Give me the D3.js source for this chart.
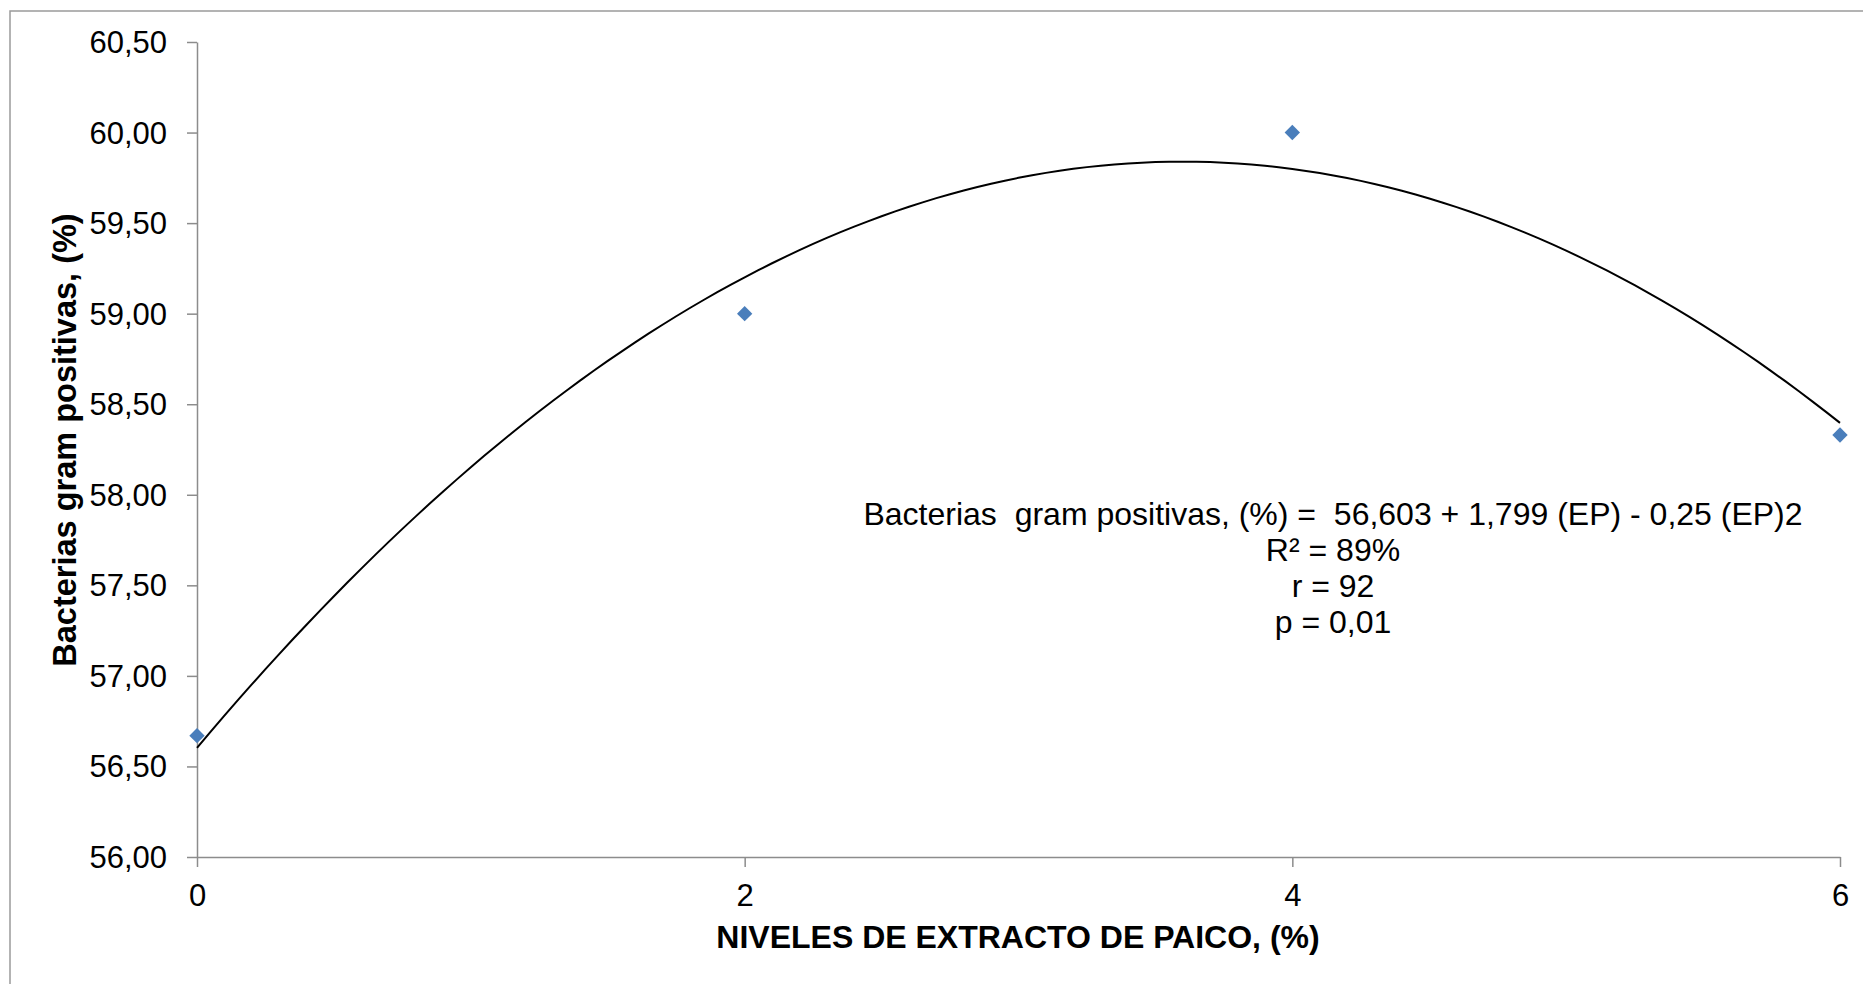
<!DOCTYPE html>
<html lang="es">

<head>
  <meta charset="UTF-8">
  <title>Bacterias gram positivas</title>
  <script src="https://d3js.org/d3.v7.min.js"></script>
  <style>
    body {
      margin: 0;
      background: #fff;
      font-family: "Liberation Sans", Arial, sans-serif;
    }

    .axis path,
    .axis line {
      stroke: #8c8c8c;
      stroke-width: 1.5px;
    }

    .axis text {
      font-size: 31px;
      fill: #000;
      font-family: "Liberation Sans", Arial, sans-serif;
    }

    .title {
      font-size: 32.5px;
      font-weight: bold;
    }

    .eq {
      font-size: 32px;
    }
  </style>
</head>

<body>
  <div id="chart"></div>
  <script>
    // data
    var niveles = [0, 2, 4, 6];
    var bacterias = [56.67, 59.00, 60.00, 58.33];
    var yTicks = [56, 56.5, 57, 57.5, 58, 58.5, 59, 59.5, 60, 60.5];
    var xTicks = [0, 2, 4, 6];
    var eqLines = [
      "Bacterias  gram positivas, (%) =  56,603 + 1,799 (EP) - 0,25 (EP)2",
      "R² = 89%",
      "r = 92",
      "p = 0,01"
    ];

    var W = 1863, H = 984;
    var svg = d3.select("#chart").append("svg")
      .attr("width", W)
      .attr("height", H);

    // chart area border (runs off the right and bottom)
    svg.append("rect")
      .attr("x", 10).attr("y", 11)
      .attr("width", 1900).attr("height", 1000)
      .attr("fill", "none")
      .attr("stroke", "#9a9a9a")
      .attr("stroke-width", 1.5);

    var x = d3.scaleLinear().domain([0, 6]).range([197, 1840]);
    var y = d3.scaleLinear().domain([56, 60.5]).range([857, 42]);

    var es = d3.formatLocale({ decimal: ",", thousands: ".", grouping: [3], currency: ["", ""] });
    var fmt = es.format(".2f");

    svg.append("g")
      .attr("class", "axis")
      .attr("transform", "translate(" + x(0) + ",0)")
      .call(d3.axisLeft(y).tickValues(yTicks).tickFormat(fmt).tickSize(10).tickPadding(20).tickSizeOuter(0))
      .call(function (g) { g.selectAll("text").attr("dy", "0.34em"); });

    svg.append("g")
      .attr("class", "axis")
      .attr("transform", "translate(0," + y(56) + ")")
      .call(d3.axisBottom(x).tickValues(xTicks).tickFormat(d3.format("d")).tickSize(10).tickPadding(17).tickSizeOuter(0));

    // quadratic trendline, least squares on the points
    function polyFit2(xs, ys) {
      var n = xs.length, S = [0, 0, 0, 0, 0], T = [0, 0, 0];
      for (var i = 0; i < n; i++) {
        for (var k = 0; k < 5; k++) S[k] += Math.pow(xs[i], k);
        for (var k = 0; k < 3; k++) T[k] += ys[i] * Math.pow(xs[i], k);
      }
      var A = [[S[0], S[1], S[2], T[0]], [S[1], S[2], S[3], T[1]], [S[2], S[3], S[4], T[2]]];
      for (var c = 0; c < 3; c++) {
        for (var r = c + 1; r < 3; r++) {
          var f = A[r][c] / A[c][c];
          for (var k = c; k < 4; k++) A[r][k] -= f * A[c][k];
        }
      }
      var b = [0, 0, 0];
      for (var r = 2; r >= 0; r--) {
        var s = A[r][3];
        for (var k = r + 1; k < 3; k++) s -= A[r][k] * b[k];
        b[r] = s / A[r][r];
      }
      return b;
    }
    var coef = polyFit2(niveles, bacterias);
    var curve = d3.range(0, 6.0001, 0.05).map(function (t) {
      return [t, coef[0] + coef[1] * t + coef[2] * t * t];
    });

    svg.append("path")
      .datum(curve)
      .attr("fill", "none")
      .attr("stroke", "#000")
      .attr("stroke-width", 2)
      .attr("d", d3.line().x(function (d) { return x(d[0]); }).y(function (d) { return y(d[1]); }));

    // markers
    svg.selectAll("path.pt")
      .data(niveles)
      .enter().append("path")
      .attr("class", "pt")
      .attr("d", d3.symbol().type(d3.symbolSquare).size(118))
      .attr("fill", "#4a7ebb")
      .attr("transform", function (d, i) {
        return "translate(" + x(d) + "," + y(bacterias[i]) + ") rotate(45)";
      });

    // axis titles
    svg.append("text")
      .attr("class", "title")
      .style("font-size", "32px")
      .attr("x", 1018).attr("y", 948)
      .attr("text-anchor", "middle")
      .text("NIVELES DE EXTRACTO DE PAICO, (%)");

    svg.append("text")
      .attr("class", "title")
      .attr("transform", "translate(76,440) rotate(-90)")
      .attr("text-anchor", "middle")
      .text("Bacterias gram positivas, (%)");

    // equation box
    svg.append("g")
      .selectAll("text")
      .data(eqLines)
      .enter().append("text")
      .attr("class", "eq")
      .attr("x", 1333)
      .attr("y", function (d, i) { return 525 + i * 36; })
      .attr("text-anchor", "middle")
      .style("white-space", "pre")
      .attr("xml:space", "preserve")
      .text(function (d) { return d; });
  </script>
</body>

</html>
